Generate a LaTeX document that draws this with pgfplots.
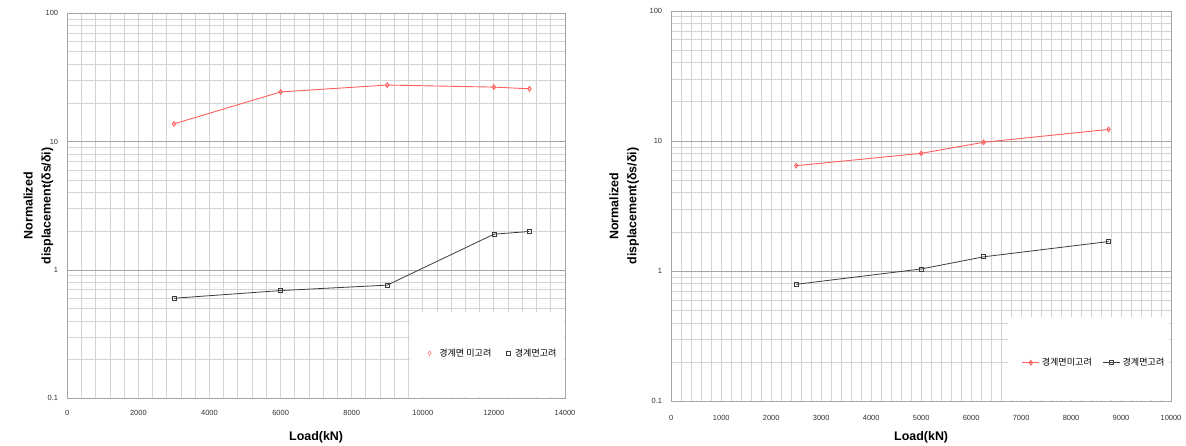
\documentclass[border=0pt]{standalone}
\usepackage{fontspec}
\setmainfont{Liberation Sans}
\newfontfamily\kr{Noto Sans CJK KR}
\usepackage{pgfplots}
\pgfplotsset{compat=1.18}

\definecolor{majgrid}{RGB}{165,165,165}
\definecolor{mingrid}{RGB}{212,212,212}
\definecolor{redline}{RGB}{255,95,95}
\definecolor{blkline}{RGB}{60,60,60}
\definecolor{ticklab}{RGB}{50,50,50}

\begin{document}
\begin{tikzpicture}
\path[use as bounding box] (0,0) rectangle (1186bp,446bp);

% ---------- left panel ----------
\begin{axis}[
  at={(67.3bp,47.7bp)}, anchor=south west,
  scale only axis, width=497.7bp, height=385bp,
  ymode=log, ymin=0.1, ymax=100,
  ytick={0.1,1,10,100}, yticklabels={0.1,1,10,100},
  minor ytick={0.2,0.3,0.4,0.5,0.6,0.7,0.8,0.9,2,3,4,5,6,7,8,9,20,30,40,50,60,70,80,90},
  xmin=0, xmax=14000, scaled x ticks=false,
  xtick={0,2000,4000,6000,8000,10000,12000,14000},
  xticklabels={0,2000,4000,6000,8000,10000,12000,14000},
  minor xtick={0,400,...,14000},
  xmajorgrids, xminorgrids, ymajorgrids, yminorgrids,
  major x grid style={draw=mingrid, line width=0.9bp},
  minor x grid style={draw=mingrid, line width=0.9bp},
  major y grid style={draw=majgrid, line width=0.9bp},
  minor y grid style={draw=mingrid, line width=0.9bp},
  axis line style={draw=majgrid, line width=0.9bp},
  major tick length=0pt, minor tick length=0pt,
  xticklabel style={font=\fontsize{7.5}{9}\selectfont, text=ticklab, inner sep=0pt, anchor=center, yshift=-15bp},
  yticklabel style={font=\fontsize{7.5}{9}\selectfont, text=ticklab, inner sep=0pt, anchor=east, xshift=-9bp},
  xlabel={Load(kN)},
  xlabel style={font=\bfseries\fontsize{12.5}{15}\selectfont, at={(axis description cs:0.5,0)}, anchor=center, yshift=-38.7bp},
  ylabel={Normalized\\displacement(δs/δi)},
  ylabel style={font=\bfseries\fontsize{12.5}{18}\selectfont, align=center, at={(axis description cs:-0.058,0.5)}, anchor=center},
  legend cell align=left,
  legend style={at={(axis description cs:0.724,0.117)}, anchor=west, draw=none, fill=none,
    inner sep=0pt, legend columns=2, font=\kr\fontsize{9.1}{11}\selectfont,
    /tikz/every even column/.append style={column sep=12.5bp}},
]
\fill[white] (axis description cs:0.6886,0.003) rectangle (axis description cs:0.997,0.224);
\addplot[forget plot, draw=redline, line width=0.9bp, mark=diamond, mark size=2.3bp, mark options={fill=white, draw=redline}]
  coordinates {(3000,13.75) (6000,24.4) (9000,27.6) (12000,26.6) (13000,25.8)};
\addplot[forget plot, draw=blkline, line width=0.8bp, mark=square, mark size=2bp, mark options={fill=white, draw=blkline}]
  coordinates {(3000,0.602) (6000,0.691) (9000,0.762) (12000,1.90) (13000,1.995)};
\addlegendimage{only marks, mark=diamond, mark size=2.3bp, mark options={fill=white, draw=redline}}
\addlegendentry{\hspace{6bp}경계면 미고려}
\addlegendimage{only marks, mark=square, mark size=2bp, mark options={fill=white, draw=blkline}}
\addlegendentry{\hspace{3bp}경계면고려}
\end{axis}

% ---------- right panel ----------
\begin{axis}[
  at={(671.3bp,44.7bp)}, anchor=south west,
  scale only axis, width=499.7bp, height=390.3bp,
  ymode=log, ymin=0.1, ymax=100,
  ytick={0.1,1,10,100}, yticklabels={0.1,1,10,100},
  minor ytick={0.2,0.3,0.4,0.5,0.6,0.7,0.8,0.9,2,3,4,5,6,7,8,9,20,30,40,50,60,70,80,90},
  xmin=0, xmax=10000, scaled x ticks=false,
  xtick={0,1000,2000,3000,4000,5000,6000,7000,8000,9000,10000},
  xticklabels={0,1000,2000,3000,4000,5000,6000,7000,8000,9000,10000},
  minor xtick={0,200,...,10000},
  xmajorgrids, xminorgrids, ymajorgrids, yminorgrids,
  major x grid style={draw=mingrid, line width=0.9bp},
  minor x grid style={draw=mingrid, line width=0.9bp},
  major y grid style={draw=majgrid, line width=0.9bp},
  minor y grid style={draw=mingrid, line width=0.9bp},
  axis line style={draw=majgrid, line width=0.9bp},
  major tick length=0pt, minor tick length=0pt,
  xticklabel style={font=\fontsize{7.5}{9}\selectfont, text=ticklab, inner sep=0pt, anchor=center, yshift=-16.4bp},
  yticklabel style={font=\fontsize{7.5}{9}\selectfont, text=ticklab, inner sep=0pt, anchor=east, xshift=-9bp},
  xlabel={Load(kN)},
  xlabel style={font=\bfseries\fontsize{12.5}{15}\selectfont, at={(axis description cs:0.5,0)}, anchor=center, yshift=-35.7bp},
  ylabel={Normalized\\displacement(δs/δi)},
  ylabel style={font=\bfseries\fontsize{12.5}{18}\selectfont, align=center, at={(axis description cs:-0.0943,0.5)}, anchor=center},
  legend cell align=left,
  legend style={at={(axis description cs:0.7012,0.0989)}, anchor=west, draw=none, fill=none,
    inner sep=0pt, legend columns=2, font=\kr\fontsize{9.1}{11}\selectfont,
    /tikz/every even column/.append style={column sep=9bp}},
]
\fill[white] (axis description cs:0.674,0.003) rectangle (axis description cs:0.996,0.216);
\addplot[forget plot, draw=redline, line width=0.9bp, mark=diamond, mark size=2.3bp, mark options={fill=white, draw=redline}]
  coordinates {(2500,6.47) (5000,8.05) (6250,9.79) (8750,12.3)};
\addplot[forget plot, draw=blkline, line width=0.8bp, mark=square, mark size=2bp, mark options={fill=white, draw=blkline}]
  coordinates {(2500,0.793) (5000,1.04) (6250,1.29) (8750,1.69)};
\addlegendimage{draw=redline, line width=0.9bp, mark=diamond, mark size=2.3bp, mark options={fill=white, draw=redline}}
\addlegendentry{경계면미고려}
\addlegendimage{draw=blkline, line width=0.8bp, mark=square, mark size=2bp, mark options={fill=white, draw=blkline}}
\addlegendentry{경계면고려}
\end{axis}
\end{tikzpicture}
\end{document}
